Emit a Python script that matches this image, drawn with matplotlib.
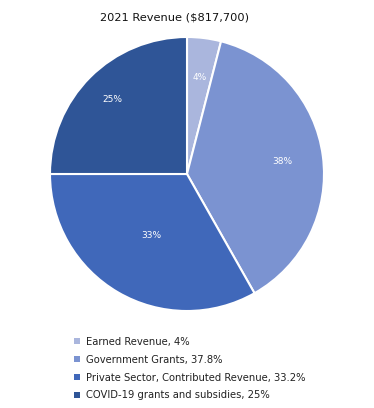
import matplotlib.pyplot as plt
from matplotlib.patches import Patch

labels = ['Earned Revenue', 'Government Grants',
          'Private Sector, Contributed Revenue', 'COVID-19 grants and subsidies']
shares = [4.0, 37.8, 33.2, 25.0]
colors = ['#aab6dd', '#7b93d1', '#4068ba', '#2f5597']
# how far out each percent label sits (fraction of the radius)
label_dist = [0.71, 0.70, 0.52, 0.77]

fig = plt.figure(figsize=(3.74, 4.08), dpi=100)
ax = fig.add_axes([50/374, 1 - 311/408, 274/374, 274/408])

wedges, texts, autotexts = ax.pie(
    shares, colors=colors, startangle=90, counterclock=False,
    autopct='%1.0f%%', pctdistance=1.0,
    wedgeprops=dict(edgecolor='white', linewidth=1.5),
    textprops=dict(color='white', fontsize=6.5))
for t, d in zip(autotexts, label_dist):
    x, y = t.get_position()
    t.set_position((x * d, y * d))
ax.set_xlim(-1, 1)
ax.set_ylim(-1, 1)
ax.set_aspect('equal')

fig.text(174/374, 1 - 18/408, '2021 Revenue ($817,700)', ha='center', va='center',
         fontsize=8.2, color='#111111')

handles = [Patch(facecolor=c, edgecolor='none') for c in colors]
leg_labels = [f'{l}, {s:g}%' for l, s in zip(labels, shares)]
fig.legend(handles, leg_labels, loc='upper left', bbox_to_anchor=(70/374, 1 - 333/408),
           frameon=False, fontsize=7.2, handlelength=0.55, handleheight=0.55,
           handletextpad=0.6, labelspacing=0.78, borderaxespad=0, labelcolor='#222222')

fig.savefig('out.png', dpi=100)
